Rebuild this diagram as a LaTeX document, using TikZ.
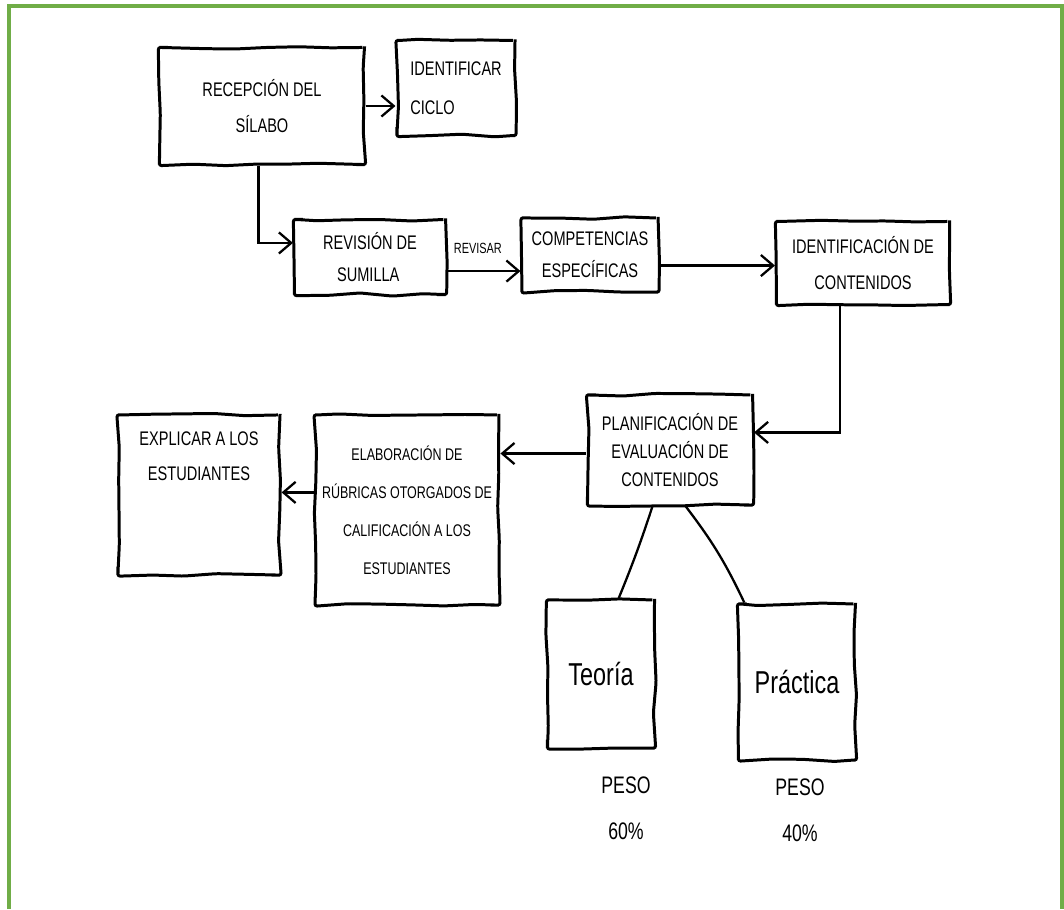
\documentclass[tikz,border=0pt]{standalone}
\usepackage{fontspec}
\usetikzlibrary{arrows.meta,decorations.pathmorphing,calc}
\newfontfamily\hand[FakeStretch=0.74]{Liberation Sans}
\definecolor{framegreen}{HTML}{70AD47}
\pgfmathsetseed{7}
\tikzset{
  sketch/.style={decorate,decoration={random steps,segment length=9pt,amplitude=0.45pt}},
  box/.style={draw,line width=0.85pt,sketch,rounded corners=0.6pt,inner sep=2pt,align=center,
              font=\hand\fontsize{5.6}{8}\selectfont},
  txt/.style={inner sep=0pt,align=center,font=\hand\fontsize{5.6}{8}\selectfont},
  link/.style={line width=0.65pt},
  arr/.style={link,-{Straight Barb[length=3.5pt,width=6pt,line width=0.65pt]}}
}
\begin{document}
\begin{tikzpicture}[x=0.01cm,y=-0.01cm]
\useasboundingbox (0,0) rectangle (1064,909);
\fill[white] (0,0) rectangle (1064,909);
% frame
\draw[framegreen,line width=0.9pt] (9,909) -- (9,6) -- (1062,6) -- (1062,909);

% boxes of the process
\node[box,minimum width=2.05cm,minimum height=1.17cm] (recep) at (262,106) {RECEPCIÓN DEL\\[2pt]SÍLABO};
\node[box,minimum width=1.18cm,minimum height=0.95cm,align=left] (ident) at (456,88) {IDENTIFICAR\\[3pt]CICLO\hspace{9pt}};
\node[box,minimum width=1.51cm,minimum height=0.75cm,align=left] (revis) at (370,257) {REVISIÓN DE\\[1pt]\hspace{4pt}SUMILLA};
\node[box,minimum width=1.36cm,minimum height=0.74cm] (comp) at (590,255) {COMPETENCIAS\\[1pt]ESPECÍFICAS};
\node[box,minimum width=1.73cm,minimum height=0.83cm] (cont) at (863,263) {IDENTIFICACIÓN DE\\[2pt]CONTENIDOS};
\node[box,minimum width=1.65cm,minimum height=1.10cm] (plan) at (670,450) {PLANIFICACIÓN DE\\EVALUACIÓN DE\\CONTENIDOS};
\node[box,minimum width=1.62cm,minimum height=1.90cm,font=\hand\fontsize{4.8}{10.8}\selectfont] (elab) at (407,510)
  {ELABORACIÓN DE\\RÚBRICAS OTORGADOS DE\\CALIFICACIÓN A LOS\\ESTUDIANTES};
\node[box,minimum width=1.62cm,minimum height=1.60cm] (expl) at (199,495) {};
\node[txt,anchor=north] (expltxt) at ([yshift=-5pt]expl.north) {EXPLICAR A LOS\\[2pt]ESTUDIANTES};
\node[box,minimum width=1.07cm,minimum height=1.48cm,font=\hand\fontsize{9}{10}\selectfont] (teoria) at (601,674) {Teoría};
\node[box,minimum width=1.17cm,minimum height=1.56cm,font=\hand\fontsize{9}{10}\selectfont] (prac) at (797,682) {Práctica};

% weights
\node[txt,font=\hand\fontsize{6.8}{13}\selectfont] (pesoT) at (626,808) {PESO\\60\%};
\node[txt,font=\hand\fontsize{6.8}{13}\selectfont] (pesoP) at (800,810) {PESO\\40\%};

% connectors
\draw[arr] (recep.east) -- (recep.east -| ident.west);
\draw[arr] ([xshift=-1pt]recep.south) |- ([yshift=4pt]revis.west);
\draw[arr] ([yshift=-4pt]revis.east) -- ([yshift=-4pt]revis.east -| comp.west)
  node[pos=0.42,above=4.5pt,txt,font=\hand\fontsize{4.2}{5}\selectfont] (revisar) {REVISAR};
\draw[arr] ([yshift=-3pt]comp.east) -- ([yshift=-3pt]comp.east -| cont.west);
\draw[arr] ([xshift=-6.5pt]cont.south) |- ([yshift=5pt]plan.east);
\draw[arr] ([yshift=-1pt]plan.west) -- ([yshift=-1pt]plan.west -| elab.east);
\draw[arr] ([yshift=5pt]elab.west) -- ([yshift=5pt]elab.west -| expl.east);
\draw[link] ([xshift=-5pt]plan.south) to[bend left=2] ([xshift=5pt]teoria.north);
\draw[link] ([xshift=4.5pt]plan.south) to[bend left=6] ([xshift=-15pt]prac.north);
\end{tikzpicture}
\end{document}
